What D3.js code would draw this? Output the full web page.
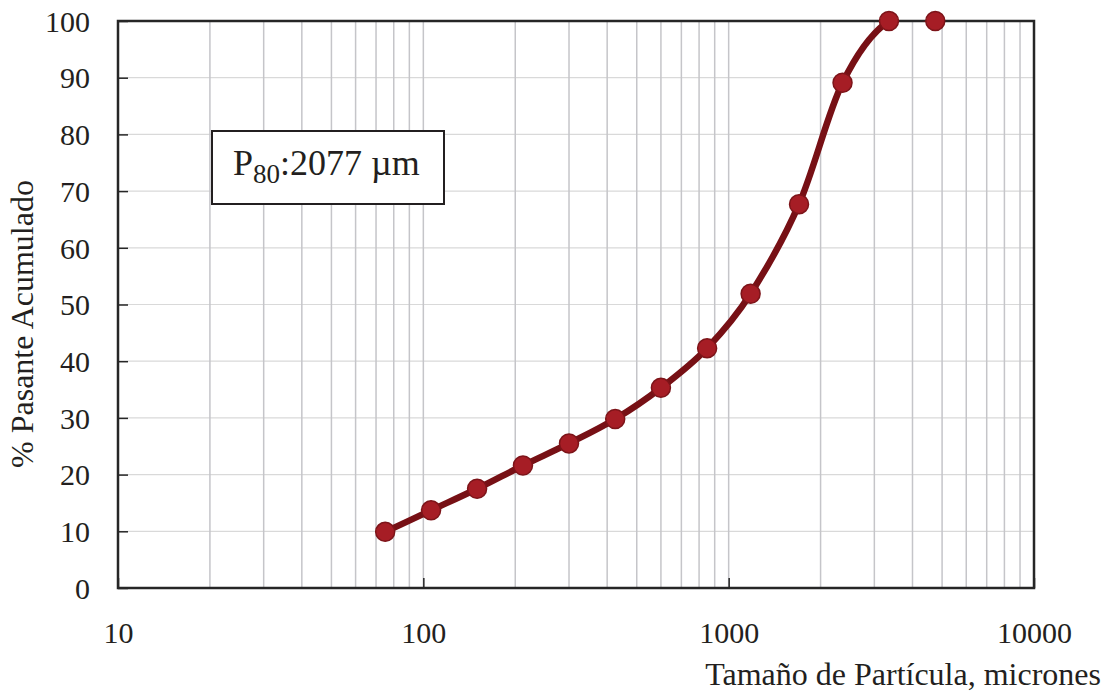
<!DOCTYPE html>
<html>
<head>
<meta charset="utf-8">
<script src="https://cdn.jsdelivr.net/npm/d3@7"></script>
<style>
  html, body { margin: 0; padding: 0; background: #fff; }
  svg { display: block; }
  text { font-family: "Liberation Serif", "Times New Roman", serif; fill: #231f20; }
</style>
</head>
<body>
<svg id="chart" width="1112" height="692"></svg>
<script>
// Sieve apertures (µm) and cumulative percent passing
const sizes = [75, 106, 150, 212, 300, 425, 600, 850, 1180, 1700, 2360, 3350, 4750];
const passing = [9.9, 13.7, 17.5, 21.6, 25.5, 29.8, 35.3, 42.3, 51.9, 67.7, 89.1, 100, 100];
const xTickValues = [10, 100, 1000, 10000];
const yTickValues = [0, 10, 20, 30, 40, 50, 60, 70, 80, 90, 100];
const p80Value = 2077;

const svg = d3.select("#chart");
const plotLeft = 118, plotRight = 1034, plotTop = 21, plotBottom = 588;

const x = d3.scaleLog().domain([10, 10000]).range([plotLeft, plotRight]);
const y = d3.scaleLinear().domain([0, 100]).range([plotBottom, plotTop]);

// Log grid: every 1..9 multiple of each decade
const gridX = [];
for (let d = 10; d < 10000; d *= 10) {
  for (let m = 1; m <= 9; m++) { const v = d * m; if (v > 10 && v < 10000) gridX.push(v); }
}

const grid = svg.append("g");
grid.selectAll("line.h").data(yTickValues.filter(v => v > 0 && v < 100)).join("line")
  .attr("class", "h")
  .attr("x1", plotLeft).attr("x2", plotRight)
  .attr("y1", d => y(d)).attr("y2", d => y(d))
  .attr("stroke", "#d9d9d9").attr("stroke-width", 1.2);
grid.selectAll("line.v").data(gridX).join("line")
  .attr("class", "v")
  .attr("x1", d => x(d)).attr("x2", d => x(d))
  .attr("y1", plotTop).attr("y2", plotBottom)
  .attr("stroke", "#c5c5c9").attr("stroke-width", 1.5);

// Y axis with inward ticks
const yAxis = svg.append("g").attr("transform", `translate(${plotLeft},0)`)
  .call(d3.axisRight(y).tickValues(yTickValues).tickSize(10).tickFormat(d3.format("d")));
yAxis.select(".domain").remove();
yAxis.selectAll(".tick line").attr("stroke", "#262626").attr("stroke-width", 1.5);
yAxis.selectAll(".tick text")
  .attr("x", -28).attr("text-anchor", "end").attr("dy", "0.34em")
  .style("font-size", "30px").style("font-family", "Liberation Serif").attr("fill", "#231f20");

// X axis with inward ticks
const xAxis = svg.append("g").attr("transform", `translate(0,${plotBottom})`)
  .call(d3.axisTop(x).tickValues(xTickValues).tickSize(10).tickFormat(d3.format("d")));
xAxis.select(".domain").remove();
xAxis.selectAll(".tick line").attr("stroke", "#262626").attr("stroke-width", 1.5);
xAxis.selectAll(".tick text")
  .attr("y", 55).attr("dy", 0).attr("text-anchor", "middle")
  .style("font-size", "30px").style("font-family", "Liberation Serif").attr("fill", "#231f20");

// Plot frame
svg.append("rect").attr("x", plotLeft).attr("y", plotTop)
  .attr("width", plotRight - plotLeft).attr("height", plotBottom - plotTop)
  .attr("fill", "none").attr("stroke", "#262626").attr("stroke-width", 2.5);

// Clip for the smoothed curve
svg.append("clipPath").attr("id", "plotClip").append("rect")
  .attr("x", plotLeft).attr("y", plotTop)
  .attr("width", plotRight - plotLeft).attr("height", plotBottom - plotTop);

const pts = sizes.map((s, i) => [s, passing[i]]);
const line = d3.line().x(d => x(d[0])).y(d => y(d[1])).curve(d3.curveCardinal.tension(0));

svg.append("path").datum(pts)
  .attr("clip-path", "url(#plotClip)")
  .attr("d", line).attr("fill", "none")
  .attr("stroke", "#771015").attr("stroke-width", 6.5).attr("stroke-linejoin", "round");

svg.append("g").selectAll("circle").data(pts).join("circle")
  .attr("cx", d => x(d[0])).attr("cy", d => y(d[1])).attr("r", 9.5)
  .attr("fill", "#a61d25").attr("stroke", "#7d1419").attr("stroke-width", 1.5);

// P80 annotation box
const box = svg.append("g");
box.append("rect").attr("x", 212).attr("y", 131).attr("width", 232).attr("height", 73)
  .attr("fill", "#fff").attr("stroke", "#231f20").attr("stroke-width", 2);
const t = box.append("text").attr("x", 233).attr("y", 175).style("font-size", "36px");
t.append("tspan").text("P");
t.append("tspan").attr("dy", 8).style("font-size", "27px").text("80");
t.append("tspan").attr("dy", -8).text(":" + p80Value + " µm");

// Axis titles
svg.append("text").attr("x", 1101).attr("y", 685).attr("text-anchor", "end")
  .style("font-size", "32px").text("Tamaño de Partícula, micrones");
svg.append("text").attr("transform", "translate(33,324) rotate(-90)")
  .attr("text-anchor", "middle").style("font-size", "32px").text("% Pasante Acumulado");
</script>
</body>
</html>
